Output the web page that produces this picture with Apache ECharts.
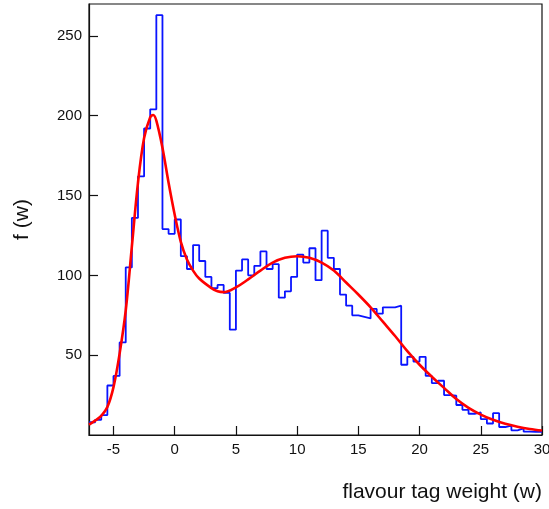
<!DOCTYPE html>
<html>
<head>
<meta charset="utf-8">
<script src="https://cdn.jsdelivr.net/npm/echarts@6/dist/echarts.min.js"></script>
<style>
  html, body { margin: 0; padding: 0; background: #fff; }
  #chart { width: 549px; height: 509px; }
</style>
</head>
<body>
<div id="chart"></div>
<script>
// Histogram of the flavour tag weight: 0.5-wide bins starting at w = -7
const binStart = -7;
const binWidth = 0.5;
const binCounts = [
  8, 9.5, 12.5, 31, 37, 58, 105, 136, 162, 192,
  204, 263, 129, 126, 135, 112, 104, 119, 109, 99,
  92, 94, 89, 66, 103, 110, 100, 106, 115, 104,
  107, 86, 90, 99, 113, 108, 117, 97, 128, 111,
  104, 88, 81, 75, 74, 73, 79, 76, 80, 80,
  81, 44, 49, 46, 49, 37, 32.5, 34, 25, 24.6,
  18.8, 15.8, 13.3, 14.1, 10, 7.2, 13.7, 5, 5.9, 2.9,
  4.1, 2.1, 2, 2
];

// Fitted density f(w), sampled along w
const fitW = [
  -7, -6.5, -6, -5.5, -5, -4.5, -4, -3.5, -3, -2.5,
  -2, -1.75, -1.5, -1, -0.5, 0, 0.5, 1, 1.5, 2,
  3, 3.5, 4, 5, 6, 7, 8, 9, 10, 11,
  12, 13, 14, 15, 16, 17, 18, 19, 20, 21,
  22, 23, 24, 25, 26, 27, 28, 29, 30
];
const fitF = [
  6.5, 9, 12, 17.5, 30, 51, 78, 118, 158, 186,
  199, 200.5, 197, 180, 158, 138, 121, 110, 103, 98,
  92, 90, 89.5, 92.5, 97.5, 103, 108, 111, 112, 111,
  108, 103, 95.5, 88, 80, 71, 62, 52.5, 44, 36.5,
  29.5, 22.5, 17, 12.8, 9.5, 7, 5.2, 3.8, 2.8
];

// Tick positions
const xTicks = [-5, 0, 5, 10, 15, 20, 25, 30];
const yTicks = [50, 100, 150, 200, 250];

const histData = binCounts.map((c, i) => [binStart + i * binWidth, c]);
histData.push([binStart + binCounts.length * binWidth, binCounts[binCounts.length - 1]]);
const fitData = fitW.map((w, i) => [w, fitF[i]]);

const font = 'Liberation Sans, Arial, Helvetica, sans-serif';

const chart = echarts.init(document.getElementById('chart'), null, { renderer: 'canvas' });
chart.setOption({
  animation: false,
  backgroundColor: '#ffffff',
  grid: {
    left: 89, right: 7, top: 4, bottom: 74,
    outerBoundsMode: 'none',
    containLabel: false,
    show: true, borderColor: '#111', borderWidth: 1.2, backgroundColor: 'transparent'
  },
  xAxis: {
    type: 'value',
    min: -7, max: 30,
    name: 'flavour tag weight (w)',
    nameLocation: 'end',
    nameGap: 0,
    nameTextStyle: {
      fontFamily: font, fontSize: 21, color: '#111',
      align: 'right', verticalAlign: 'top', padding: [47, 0, 0, 0]
    },
    axisLine: { show: true, onZero: false, lineStyle: { color: '#111', width: 1.2 } },
    axisTick: { show: true, inside: true, length: 9, customValues: xTicks, lineStyle: { color: '#111', width: 1.2 } },
    axisLabel: {
      customValues: xTicks, margin: 7,
      fontFamily: font, fontSize: 15, color: '#111'
    },
    splitLine: { show: false }
  },
  yAxis: {
    type: 'value',
    min: 0, max: 270,
    name: 'f (w)',
    nameLocation: 'middle',
    nameGap: 56,
    nameTextStyle: { fontFamily: font, fontSize: 21, color: '#111' },
    axisLine: { show: true, onZero: false, lineStyle: { color: '#111', width: 1.2 } },
    axisTick: { show: true, inside: true, length: 9, customValues: yTicks, lineStyle: { color: '#111', width: 1.2 } },
    axisLabel: {
      customValues: yTicks, margin: 7,
      fontFamily: font, fontSize: 15, color: '#111'
    },
    splitLine: { show: false }
  },
  series: [
    {
      name: 'data',
      type: 'line',
      step: 'end',
      data: histData,
      symbol: 'none',
      lineStyle: { color: '#0a14ff', width: 1.8 },
      z: 2
    },
    {
      name: 'fit',
      type: 'line',
      smooth: 0.35,
      data: fitData,
      symbol: 'none',
      lineStyle: { color: '#ff0000', width: 2.6 },
      z: 3
    }
  ]
});
</script>
</body>
</html>
